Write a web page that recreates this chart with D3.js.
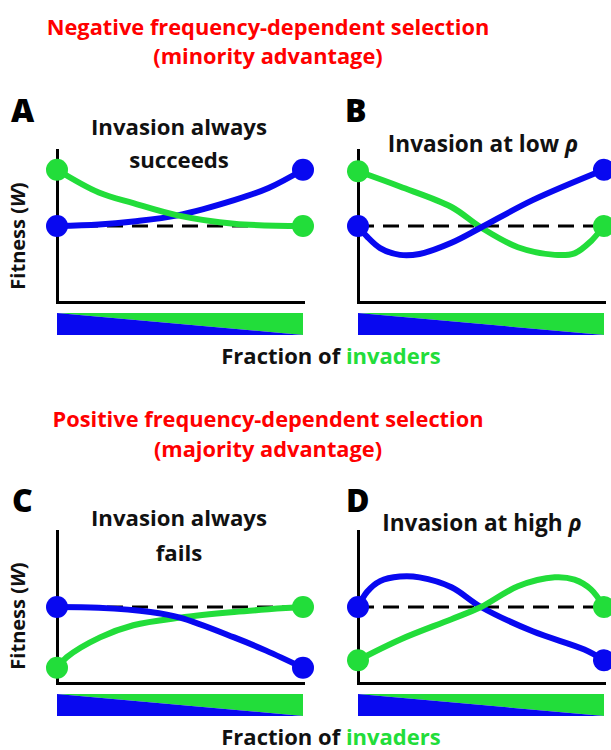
<!DOCTYPE html>
<html>
<head>
<meta charset="utf-8">
<script src="https://cdn.jsdelivr.net/npm/d3@7"></script>
<style>
  html, body { margin: 0; padding: 0; background: #fff; }
  svg { display: block; font-family: "Open Sans", "Noto Sans", sans-serif; font-weight: bold; }
</style>
</head>
<body>
<div id="chart"></div>
<script>
// ---- data ----
const sectionTitles = [
    ['Negative frequency-dependent selection', '(minority advantage)'],
    ['Positive frequency-dependent selection', '(majority advantage)']
];
const panelLetters = ['A', 'B', 'C', 'D'];
const panelTitles = [
    ['Invasion always', 'succeeds'],
    ['Invasion at low '],
    ['Invasion always', 'fails'],
    ['Invasion at high ']
];
const greekPanels = [false, true, false, true]; // titles ending with italic rho
const xLabel = ['Fraction of ', 'invaders'];
const yLabel = ['Fitness (', 'W', ')'];

// dashed line = resident fitness without invaders
const baseline = [0.5, 0.5, 0.5, 0.5];

// [fraction of invaders, fitness]
const invadersA = [[0, 0.87], [0.17, 0.72], [0.31, 0.65], [0.49, 0.57], [0.72, 0.515], [1, 0.5]];
const residentsA = [[0, 0.5], [0.17, 0.51], [0.31, 0.53], [0.49, 0.57], [0.72, 0.67], [0.86, 0.75], [1, 0.87]];
const invadersB = [[0, 0.86], [0.17, 0.76], [0.38, 0.625], [0.5, 0.49], [0.65, 0.36], [0.8, 0.31], [0.88, 0.32], [0.947, 0.4], [1, 0.5]];
const residentsB = [[0, 0.5], [0.037, 0.43], [0.09, 0.355], [0.17, 0.31], [0.25, 0.316], [0.38, 0.39], [0.5, 0.49], [0.71, 0.67], [1, 0.87]];
const invadersC = [[0, 0.1], [0.04, 0.17], [0.175, 0.3], [0.31, 0.38], [0.5, 0.43], [0.72, 0.467], [0.93, 0.493], [1, 0.5]];
const residentsC = [[0, 0.5], [0.17, 0.495], [0.38, 0.467], [0.5, 0.43], [0.72, 0.3], [0.85, 0.213], [1, 0.1]];
const invadersD = [[0, 0.15], [0.17, 0.285], [0.38, 0.42], [0.5, 0.5], [0.65, 0.636], [0.8, 0.695], [0.88, 0.68], [0.947, 0.616], [1, 0.5]];
const residentsD = [[0, 0.5], [0.037, 0.6], [0.09, 0.67], [0.17, 0.7], [0.25, 0.695], [0.38, 0.63], [0.5, 0.5], [0.71, 0.34], [0.92, 0.22], [1, 0.15]];

const invaders = [invadersA, invadersB, invadersC, invadersD];
const residents = [residentsA, residentsB, residentsC, residentsD];
// which curve sits on top where they cross
const residentsOnTop = [false, true, true, false];

// ---- layout ----
const width = 611, height = 750;
const BLUE = '#0808f0';
const GREEN = '#22dd3a';
const RED = '#ff0000';

const frames = [
    {left: 57, top: 150, bottom: 302},
    {left: 358, top: 150, bottom: 302},
    {left: 57, top: 531, bottom: 683},
    {left: 358, top: 531, bottom: 683}
];
const plotW = 246;
const titlePos = [
    {x: 179, y: [135, 168]},
    {x: 483, y: [152]},
    {x: 179, y: [526, 561]},
    {x: 482, y: [531]}
];
const letterPos = [{x: 11, y: 122}, {x: 345, y: 122}, {x: 12, y: 512}, {x: 346, y: 512}];
const sectionPos = [{x: 268, y: [35, 64]}, {x: 268, y: [427, 457]}];
const xLabelPos = [{x: 331, y: 364}, {x: 331, y: 745}];
const yLabelPos = [{x: 25, y: 236}, {x: 25, y: 616}];

const svg = d3.select('#chart').append('svg')
    .attr('width', width)
    .attr('height', height);

// section titles (red)
sectionTitles.forEach((lines, i) => {
    svg.append('g')
        .selectAll('text')
        .data(lines)
        .join('text')
        .attr('x', sectionPos[i].x)
        .attr('y', (d, j) => sectionPos[i].y[j])
        .attr('text-anchor', 'middle')
        .attr('fill', RED)
        .style('font-size', '21.8px')
        .text(d => d);
});

// x labels
xLabelPos.forEach(p => {
    const t = svg.append('text')
        .attr('x', p.x)
        .attr('y', p.y)
        .attr('text-anchor', 'middle')
        .style('font-size', '22px');
    t.append('tspan').attr('fill', '#111').text(xLabel[0]);
    t.append('tspan').attr('fill', GREEN).text(xLabel[1]);
});

// y labels
yLabelPos.forEach(p => {
    const t = svg.append('text')
        .attr('transform', `translate(${p.x},${p.y}) rotate(-90)`)
        .attr('text-anchor', 'middle')
        .attr('fill', '#111')
        .style('font-size', '20px');
    t.append('tspan').text(yLabel[0]);
    t.append('tspan').style('font-style', 'italic').text(yLabel[1]);
    t.append('tspan').text(yLabel[2]);
});

frames.forEach((f, i) => {
    const g = svg.append('g');
    const x = d3.scaleLinear().domain([0, 1]).range([f.left, f.left + plotW]);
    const y = d3.scaleLinear().domain([0, 1]).range([f.bottom, f.top]);

    // panel letter
    g.append('text')
        .attr('x', letterPos[i].x)
        .attr('y', letterPos[i].y)
        .attr('fill', '#000')
        .style('font-size', '32px')
        .style('font-weight', 800)
        .text(panelLetters[i]);

    // panel title
    const title = g.append('g');
    panelTitles[i].forEach((line, j) => {
        const t = title.append('text')
            .attr('x', titlePos[i].x)
            .attr('y', titlePos[i].y[j])
            .attr('text-anchor', 'middle')
            .attr('fill', '#111')
            .style('font-size', greekPanels[i] ? '22.6px' : '22.2px')
            .text(line);
        if (greekPanels[i]) {
            t.append('tspan')
                .style('font-family', '"Noto Sans", "DejaVu Sans"')
                .style('font-style', 'italic')
                .text('ρ');
        }
    });

    // axes
    const axisX = g.append('g')
        .attr('transform', `translate(0,${f.bottom})`)
        .call(d3.axisBottom(x).ticks(0).tickSizeOuter(0));
    const axisY = g.append('g')
        .attr('transform', `translate(${f.left},0)`)
        .call(d3.axisLeft(y).ticks(0).tickSizeOuter(0));
    [axisX, axisY].forEach(a => a.select('.domain')
        .attr('stroke', '#000')
        .attr('stroke-width', 3)
        .attr('stroke-linecap', 'square'));

    // composition bar: blue = residents, green = invaders
    const barY = d3.scaleLinear().domain([0, 1]).range([f.bottom + 33, f.bottom + 11]);
    const stops = [0, 1];
    g.append('path')
        .attr('fill', GREEN)
        .attr('d', d3.area().x(d => x(d)).y0(barY(1)).y1(d => barY(1 - d))(stops));
    g.append('path')
        .attr('fill', BLUE)
        .attr('d', d3.area().x(d => x(d)).y0(barY(0)).y1(d => barY(1 - d))(stops));

    // dashed reference line
    g.append('line')
        .attr('x1', x(0))
        .attr('x2', x(1))
        .attr('y1', y(baseline[i]))
        .attr('y2', y(baseline[i]))
        .attr('stroke', '#000')
        .attr('stroke-width', 3)
        .attr('stroke-dasharray', '16,9');

    const line = d3.line()
        .x(d => x(d[0]))
        .y(d => y(d[1]))
        .curve(d3.curveCatmullRom.alpha(0.5));

    const series = [
        {data: invaders[i], color: GREEN},
        {data: residents[i], color: BLUE}
    ];
    if (!residentsOnTop[i]) series.reverse();

    g.selectAll('path.fit')
        .data(series)
        .join('path')
        .attr('class', 'fit')
        .attr('fill', 'none')
        .attr('stroke', d => d.color)
        .attr('stroke-width', 6)
        .attr('stroke-linecap', 'round')
        .attr('d', d => line(d.data));

    // end points
    const ends = [];
    series.forEach(s => {
        ends.push({p: s.data[0], color: s.color});
        ends.push({p: s.data[s.data.length - 1], color: s.color});
    });
    g.selectAll('circle')
        .data(ends)
        .join('circle')
        .attr('cx', d => x(d.p[0]))
        .attr('cy', d => y(d.p[1]))
        .attr('r', 11)
        .attr('fill', d => d.color);
});
</script>
</body>
</html>
